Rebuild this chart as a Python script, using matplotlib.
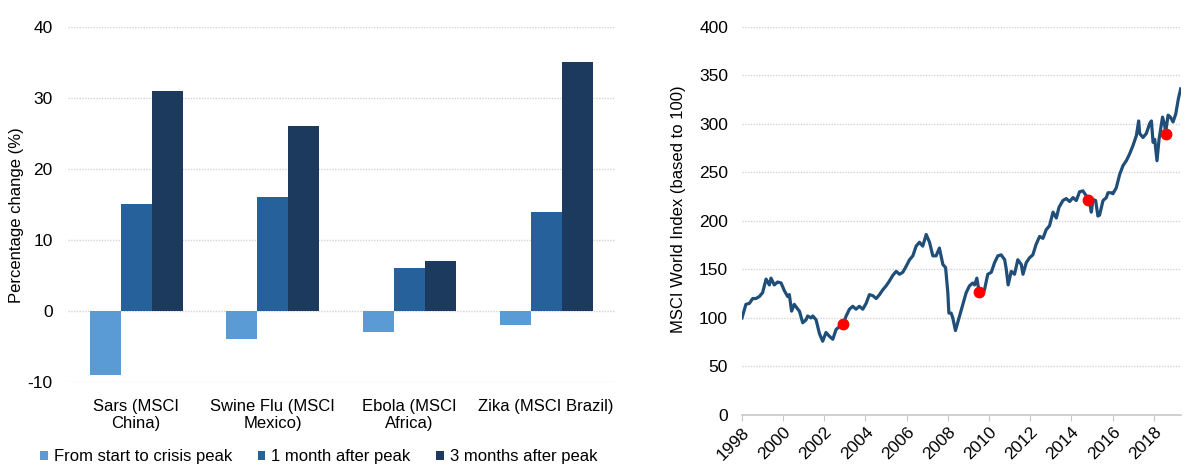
import matplotlib.pyplot as plt
import numpy as np

plt.rcParams['font.family'] = ['Liberation Sans', 'DejaVu Sans']
plt.rcParams['axes.unicode_minus'] = False

# left chart data
categories = ['Sars (MSCI\nChina)', 'Swine Flu (MSCI\nMexico)', 'Ebola (MSCI\nAfrica)', 'Zika (MSCI Brazil)']
to_peak = [-9, -4, -3, -2]
one_month = [15, 16, 6, 14]
three_months = [31, 26, 7, 35]
series_names = ['From start to crisis peak', '1 month after peak', '3 months after peak']

# right chart data (decimal year, index level)
msci_year = [1998.00, 1998.19, 1998.36, 1998.52, 1998.68, 1998.84, 1999.00, 1999.17, 1999.33, 1999.41,
             1999.57, 1999.73, 1999.90, 2000.06, 2000.22, 2000.30, 2000.41, 2000.54, 2000.71, 2000.79,
             2000.95, 2001.11, 2001.19, 2001.35, 2001.44, 2001.60, 2001.76, 2001.92, 2002.08, 2002.25,
             2002.41, 2002.57, 2002.73, 2002.93, 2003.06, 2003.22, 2003.38, 2003.54, 2003.70, 2003.87,
             2004.03, 2004.19, 2004.35, 2004.52, 2004.68, 2004.84, 2005.00, 2005.16, 2005.33, 2005.49,
             2005.65, 2005.81, 2005.97, 2006.14, 2006.30, 2006.46, 2006.62, 2006.78, 2006.95, 2007.11,
             2007.27, 2007.43, 2007.59, 2007.76, 2007.89, 2008.00, 2008.05, 2008.16, 2008.24, 2008.37,
             2008.57, 2008.73, 2008.89, 2009.05, 2009.21, 2009.30, 2009.41, 2009.51, 2009.67, 2009.78,
             2009.94, 2010.11, 2010.27, 2010.43, 2010.59, 2010.76, 2010.84, 2010.93, 2011.08, 2011.24,
             2011.40, 2011.57, 2011.65, 2011.81, 2011.97, 2012.13, 2012.29, 2012.46, 2012.62, 2012.78,
             2012.94, 2013.11, 2013.27, 2013.40, 2013.59, 2013.75, 2013.92, 2014.08, 2014.24, 2014.40,
             2014.56, 2014.81, 2014.89, 2014.97, 2015.05, 2015.18, 2015.29, 2015.37, 2015.54, 2015.70,
             2015.78, 2015.94, 2016.02, 2016.18, 2016.35, 2016.51, 2016.67, 2016.83, 2017.00, 2017.16,
             2017.27, 2017.32, 2017.48, 2017.64, 2017.80, 2017.89, 2017.97, 2018.05, 2018.16, 2018.26,
             2018.43, 2018.54, 2018.58, 2018.70, 2018.81, 2018.94, 2019.07, 2019.20, 2019.31]
msci_value = [100, 114, 115, 120, 120, 122, 126, 140, 134, 141,
              134, 137, 136, 128, 122, 124, 107, 114, 109, 107,
              95, 98, 102, 100, 102, 98, 84, 76, 85, 81,
              78, 88, 91, 94, 102, 109, 112, 109, 112, 109,
              115, 124, 123, 120, 124, 129, 133, 138, 144, 148,
              145, 147, 153, 160, 164, 174, 178, 174, 186, 178,
              164, 164, 172, 155, 152, 126, 105, 105, 100, 87,
              102, 114, 126, 133, 136, 134, 141, 128, 124, 129,
              145, 147, 157, 164, 165, 160, 150, 134, 148, 145,
              160, 155, 145, 157, 162, 165, 176, 184, 182, 191,
              195, 209, 203, 214, 221, 223, 220, 224, 221, 230,
              231, 223, 219, 209, 222, 221, 205, 206, 221, 224,
              229, 229, 228, 234, 248, 257, 262, 269, 278, 288,
              303, 290, 286, 290, 300, 303, 281, 284, 262, 284,
              307, 298, 291, 309, 307, 302, 310, 326, 336]
crisis_year = [2002.93, 2009.51, 2014.81, 2018.58]
crisis_value = [94, 127, 222, 290]

colors = ['#5B9BD5', '#26619C', '#1B3A5E']
grid_color = '#d4d4d4'

fig = plt.figure(figsize=(11.91, 4.71), dpi=100)

# ---- left: bar chart
ax1 = fig.add_axes([0.057, 0.189, 0.459, 0.754])
x = np.arange(len(categories))
w = 0.227
for i, (vals, name) in enumerate(zip([to_peak, one_month, three_months], series_names)):
    ax1.bar(x + (i - 1) * w, vals, width=w, color=colors[i], label=name, zorder=3)
ax1.set_xlim(-0.5, 3.5)
ax1.set_ylim(-10, 40)
ax1.set_yticks([-10, 0, 10, 20, 30, 40])
ax1.yaxis.grid(True, color=grid_color, linewidth=1.0, linestyle=(0, (1, 1)))
ax1.set_axisbelow(True)
for s in ax1.spines.values():
    s.set_visible(False)
ax1.tick_params(axis='y', length=0, labelsize=12.5, pad=11)
ax1.tick_params(axis='x', length=0, labelsize=12, pad=12)
ax1.set_xticks(x)
ax1.set_xticklabels(categories)
ax1.set_ylabel('Percentage change (%)', fontsize=12)
ax1.yaxis.set_label_coords(-0.08, 0.47)
fig.legend(loc='center left', bbox_to_anchor=(0.034, 0.03), ncol=3, frameon=False,
           fontsize=12, handlelength=0.45, handleheight=0.45, handletextpad=0.35,
           columnspacing=1.55, borderpad=0, borderaxespad=0)

# ---- right: MSCI World line
ax2 = fig.add_axes([0.623, 0.119, 0.369, 0.824])
ax2.plot(msci_year, msci_value, color='#1F4E79', linewidth=2.3, zorder=3)
ax2.plot(crisis_year, crisis_value, 'o', color='#FF0000', markersize=7.5, zorder=4)
ax2.set_xlim(1998, 2019.35)
ax2.set_ylim(0, 400)
ax2.set_yticks(range(0, 401, 50))
ax2.set_xticks(range(1998, 2019, 2))
ax2.set_xticklabels([str(y) for y in range(1998, 2019, 2)], rotation=45,
                    ha='right', rotation_mode='anchor')
ax2.yaxis.grid(True, color=grid_color, linewidth=1.0, linestyle=(0, (1, 1)))
ax2.set_axisbelow(True)
for side in ['top', 'right', 'left']:
    ax2.spines[side].set_visible(False)
ax2.spines['bottom'].set_color('#c8c8c8')
ax2.spines['bottom'].set_linewidth(1.2)
ax2.tick_params(axis='y', length=0, labelsize=12.5, pad=10)
ax2.tick_params(axis='x', length=4, color='#c8c8c8', labelsize=12.5, pad=3)
ax2.set_ylabel('MSCI World Index (based to 100)', fontsize=12)
ax2.yaxis.set_label_coords(-0.128, 0.53)

fig.savefig('out.png', dpi=100)
